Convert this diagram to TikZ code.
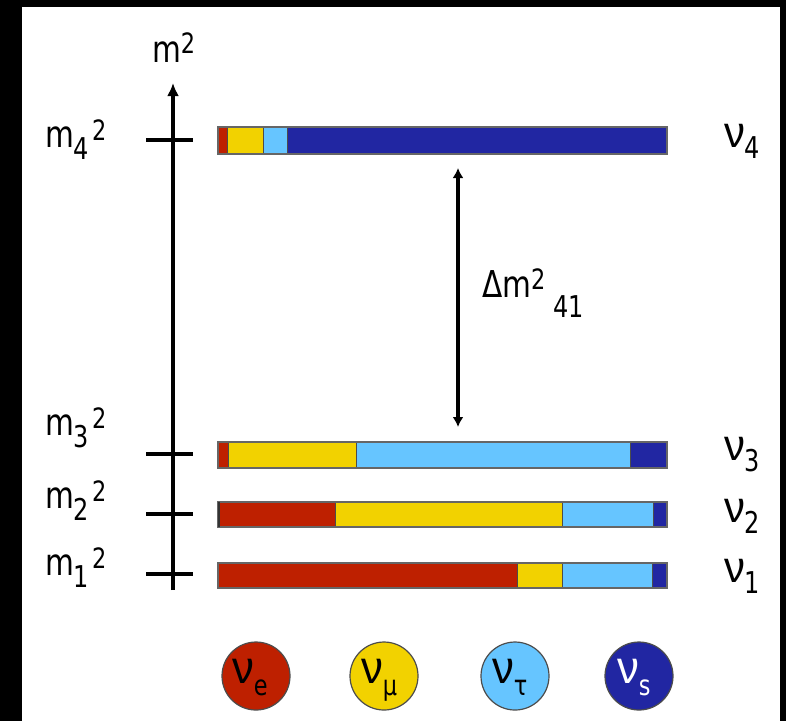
\documentclass[tikz,border=0pt]{standalone}
\usepackage{fontspec}
\setmainfont{DejaVu Sans}[FakeStretch=0.8]
\newfontfamily\nufont{Liberation Sans}[FakeStretch=0.95]
\usetikzlibrary{arrows.meta}
\definecolor{nred}{HTML}{BE2000}
\definecolor{nyel}{HTML}{F2D200}
\definecolor{nlb}{HTML}{66C5FF}
\definecolor{ndb}{HTML}{2126A2}
\newcommand{\fsz}[1]{\fontsize{#1}{#1}\selectfont}
\newcommand{\mlab}[2]{\fsz{37}m\raisebox{-12pt}{\fsz{30}#1}\hspace{3pt}\raisebox{7pt}{\fsz{28}#2}}
\newcommand{\nulab}[1]{{\nufont\fsz{44}ν}\raisebox{-11pt}{\fsz{30}#1}}
\newcommand{\nucirc}[1]{{\nufont\fsz{46}ν}\raisebox{-12pt}{\fsz{28}#1}}
\tikzset{
  seg/.style={draw=black!70, line width=0.9pt},
  barframe/.style={draw=black!60, line width=1.5pt},
  tick/.style={line width=3.5pt},
  lbl/.style={anchor=base west, inner sep=0pt, outer sep=0pt},
  flav/.style={circle, minimum size=68pt, inner sep=0pt, draw=black!70, line width=1.2pt},
}
\begin{document}
\begin{tikzpicture}[x=1pt,y=-1pt]
\fill[black] (0,0) rectangle (786,721);
\fill[white] (22,7) rectangle (780,721);
\useasboundingbox (0,0) rectangle (786,721);

% axis
\coordinate (ab) at (173,590);
\coordinate (at) at (173,83);
\draw[line width=3.2pt,-{Latex[length=13pt,width=12pt]}] (ab) -- (at);
\node[lbl] (mtop) at (152,62) {\fsz{37}m\raisebox{9pt}{\fsz{28}2}};

% ticks
\foreach \y/\n in {140/4,454/3,514/2,574/1}{
  \coordinate (tl\n) at (146,\y);
  \coordinate (tr\n) at (193,\y);
  \draw[tick] (tl\n) -- (tr\n);
}
\node[lbl] (m4) at (45,147) {\mlab{4}{2}};
\node[lbl] (m3) at (45,435) {\mlab{3}{2}};
\node[lbl] (m2) at (45,508) {\mlab{2}{2}};
\node[lbl] (m1) at (45,575) {\mlab{1}{2}};

% bars
\newcommand{\nubar}[5]{%
  \fill[nred] (218,#1) rectangle (#3,#2);
  \fill[nyel] (#3,#1) rectangle (#4,#2);
  \fill[nlb] (#4,#1) rectangle (#5,#2);
  \fill[ndb] (#5,#1) rectangle (667,#2);
  \draw[seg] (#3,#1) -- (#3,#2) (#4,#1) -- (#4,#2) (#5,#1) -- (#5,#2);
  \draw[barframe] (218,#1) rectangle (667,#2);
}
\nubar{127}{154}{227}{263}{287}
\nubar{442}{468}{228}{356}{630}
\nubar{502}{527}{335}{562}{653}
\nubar{563}{588}{517}{562}{652}
\draw[line width=1.6pt,black!80] (219,502) -- (219,527);

% mass splitting arrow
\coordinate (d4) at (458,168);
\coordinate (d3) at (458,427);
\draw[line width=3.2pt,{Latex[length=10pt,width=11pt]}-{Latex[length=10pt,width=11pt]}] (d3) -- (d4);
\node[lbl] (dm) at (482,297) {\fsz{37}Δm\raisebox{8pt}{\fsz{28}2}\hspace{8pt}\raisebox{-20pt}{\fsz{30}41}};

% nu labels
\node[lbl] (n4) at (724,147) {\nulab{4}};
\node[lbl] (n3) at (724,460) {\nulab{3}};
\node[lbl] (n2) at (724,522) {\nulab{2}};
\node[lbl] (n1) at (724,582) {\nulab{1}};

% flavour circles
\node[flav, fill=nred] (ce) at (256,676) {};
\node[flav, fill=nyel] (cm) at (384,676) {};
\node[flav, fill=nlb] (ct) at (515,676) {};
\node[flav, fill=ndb] (cs) at (639,676) {};
\node[lbl] (te) at (232,683) {\nucirc{e}};
\node[lbl] (tm) at (361,683) {\nucirc{μ}};
\node[lbl] (tt) at (492,683) {\nucirc{τ}};
\node[lbl, text=white] (ts) at (617,683) {\nucirc{s}};
\end{tikzpicture}
\end{document}
